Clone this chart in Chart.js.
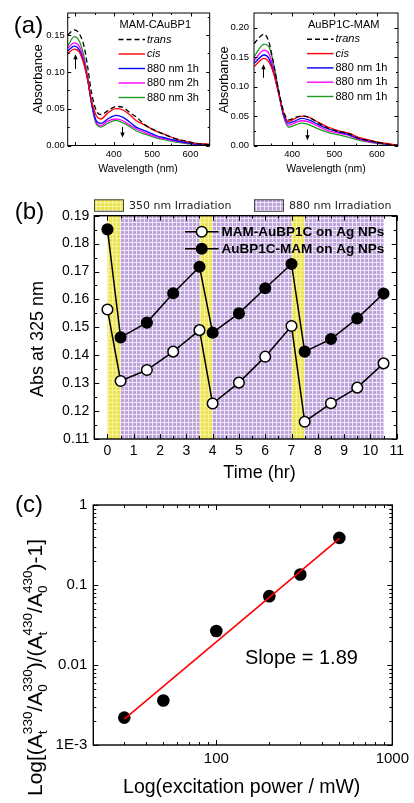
<!DOCTYPE html>
<html>
<head>
<meta charset="utf-8">
<title>Azobenzene photoswitching on Ag NPs</title>
<script src="https://cdn.jsdelivr.net/npm/chart.js@4.4.1/dist/chart.umd.min.js"></script>
<style>
  body { margin: 0; background: #fff; }
  #wrap { position: relative; width: 414px; height: 803px; overflow: hidden; }
  #wrap canvas { position: absolute; }
</style>
</head>
<body>
<div id="wrap">
  <canvas id="specLeft" width="212" height="190" style="left:0;top:0"></canvas>
  <canvas id="specRight" width="202" height="190" style="left:212px;top:0"></canvas>
  <canvas id="cycles" width="414" height="300" style="left:0;top:190px"></canvas>
  <canvas id="power" width="414" height="313" style="left:0;top:490px"></canvas>
</div>
<script>
const FONT = "'Liberation Sans', Arial, sans-serif";

// ---- (a) left: MAM-CAuBP1 spectra
const wlLeft = [280, 297, 310, 323, 332, 341, 354, 367, 384, 406, 423, 441, 458, 484, 510, 536, 562, 588, 614, 650];
const leftTrans = [0.150, 0.157, 0.152, 0.134, 0.107, 0.075, 0.048, 0.042, 0.047, 0.053, 0.052, 0.045, 0.039, 0.027, 0.020, 0.014, 0.009, 0.006, 0.003, 0.001];
const leftCis   = [0.125, 0.131, 0.127, 0.109, 0.089, 0.064, 0.041, 0.036, 0.044, 0.050, 0.0486, 0.042, 0.034, 0.027, 0.0195, 0.0145, 0.009, 0.0055, 0.003, 0.002];
const left1h    = [0.1286, 0.135, 0.130, 0.111, 0.089, 0.061, 0.034, 0.030, 0.036, 0.041, 0.0386, 0.032, 0.025, 0.0195, 0.0136, 0.010, 0.0068, 0.004, 0.002, 0.001];
const left2h    = [0.132, 0.1395, 0.135, 0.115, 0.091, 0.061, 0.032, 0.027, 0.033, 0.036, 0.034, 0.028, 0.0227, 0.0168, 0.012, 0.0086, 0.006, 0.0036, 0.0018, 0.0005];
const left3h    = [0.135, 0.148, 0.142, 0.120, 0.093, 0.060, 0.0295, 0.025, 0.030, 0.034, 0.031, 0.026, 0.020, 0.015, 0.0105, 0.0073, 0.0045, 0.0027, 0.0014, 0.0];
const leftLabels = ['trans', 'cis', '880 nm 1h', '880 nm 2h', '880 nm 3h'];

// ---- (a) right: AuBP1C-MAM spectra
const wlRight = [310, 334, 345, 356, 368, 380, 392, 408, 423, 439, 463, 486, 510, 534, 557, 581, 604, 628, 650];
const rightTrans = [0.173, 0.189, 0.176, 0.140, 0.094, 0.058, 0.0435, 0.048, 0.050, 0.048, 0.038, 0.029, 0.024, 0.020, 0.012, 0.0085, 0.005, 0.002, 0.0];
const rightCis   = [0.134, 0.148, 0.142, 0.123, 0.089, 0.055, 0.041, 0.046, 0.050, 0.048, 0.039, 0.031, 0.025, 0.021, 0.014, 0.0096, 0.0056, 0.003, 0.0];
const right1a    = [0.1395, 0.1537, 0.148, 0.125, 0.089, 0.052, 0.038, 0.042, 0.046, 0.0435, 0.035, 0.028, 0.0226, 0.0186, 0.012, 0.008, 0.0045, 0.002, 0.0];
const right1b    = [0.144, 0.162, 0.1565, 0.131, 0.0915, 0.050, 0.0345, 0.039, 0.042, 0.040, 0.032, 0.025, 0.021, 0.017, 0.011, 0.0068, 0.004, 0.0017, 0.0];
const right1c    = [0.151, 0.172, 0.168, 0.140, 0.094, 0.049, 0.031, 0.035, 0.038, 0.0356, 0.0277, 0.022, 0.018, 0.014, 0.009, 0.0056, 0.0034, 0.0011, 0.0];
const rightLabels = ['trans', 'cis', '880 nm 1h', '880 nm 1h', '880 nm 1h'];

const specXTicks = [400, 500, 600];
const leftYTicks = [0, 0.05, 0.10, 0.15];
const rightYTicks = [0, 0.05, 0.10, 0.15, 0.20];

// ---- (b) switching cycles
const timeHr    = [0, 0.5, 1.5, 2.5, 3.5, 4, 5, 6, 7, 7.5, 8.5, 9.5, 10.5];
const absMamAu  = [0.1564, 0.1308, 0.1347, 0.1413, 0.1490, 0.1227, 0.1302, 0.1395, 0.1505, 0.1162, 0.1228, 0.1284, 0.1371];
const absAuMam  = [0.1851, 0.1464, 0.1517, 0.1622, 0.1717, 0.1481, 0.1550, 0.1640, 0.1727, 0.1413, 0.1458, 0.1532, 0.1621];
const uvBands   = [[0, 0.5], [3.5, 4], [7, 7.5]];
const nirBands  = [[0.5, 3.5], [4, 7], [7.5, 10.5]];
const timeTicks = [0, 1, 2, 3, 4, 5, 6, 7, 8, 9, 10, 11];
const absTicks  = [0.11, 0.12, 0.13, 0.14, 0.15, 0.16, 0.17, 0.18, 0.19];

// ---- (c) power dependence
const powerMw  = [30, 50, 100, 200, 300, 500];
const ratioVal = [0.0022, 0.0036, 0.0266, 0.0725, 0.135, 0.388];
const fitPower = [30, 500];
const fitVal   = [0.0021, 0.38];
const powerTicks = [100, 1000];
const ratioTicks = [0.001, 0.01, 0.1, 1];
const ratioTickLabels = ['1E-3', '0.01', '0.1', '1'];

const pts = (xs, ys) => xs.map((x, i) => ({ x, y: ys[i] }));

//------------------------------------------------------------
// plugins

// inward ticks on all four sides plus the frame
const frameTicks = {
  id: 'frameTicks',
  afterDatasetsDraw(chart, args, o) {
    const { ctx, chartArea: a, scales: { x, y } } = chart;
    ctx.save();
    ctx.strokeStyle = '#000';
    ctx.lineWidth = 1;
    const mark = (scale, vals, len) => vals.forEach(v => {
      const p = Math.round(scale.getPixelForValue(v)) + 0.5;
      ctx.beginPath();
      if (scale.isHorizontal()) {
        ctx.moveTo(p, a.bottom); ctx.lineTo(p, a.bottom - len);
        ctx.moveTo(p, a.top); ctx.lineTo(p, a.top + len);
      } else {
        ctx.moveTo(a.left, p); ctx.lineTo(a.left + len, p);
        ctx.moveTo(a.right, p); ctx.lineTo(a.right - len, p);
      }
      ctx.stroke();
    });
    mark(x, o.xMajor, o.major); mark(x, o.xMinor, o.minor);
    mark(y, o.yMajor, o.major); mark(y, o.yMinor, o.minor);
    ctx.lineWidth = o.frame;
    ctx.strokeRect(a.left, a.top, a.right - a.left, a.bottom - a.top);
    ctx.restore();
  }
};

// free text: titles, panel letters
const texts = {
  id: 'texts',
  afterDraw(chart, args, o) {
    const ctx = chart.ctx;
    o.items.forEach(it => {
      ctx.save();
      ctx.font = it.font;
      ctx.fillStyle = '#000';
      ctx.textAlign = it.align || 'center';
      ctx.textBaseline = 'middle';
      ctx.translate(it.x, it.y);
      if (it.rot) ctx.rotate(it.rot);
      ctx.fillText(it.text, 0, 0);
      ctx.restore();
    });
  }
};

// legend for the spectra panels
const specLegend = {
  id: 'specLegend',
  afterDraw(chart, args, o) {
    const ctx = chart.ctx;
    ctx.save();
    ctx.textBaseline = 'middle';
    ctx.textAlign = 'left';
    ctx.fillStyle = '#000';
    ctx.font = `11px ${FONT}`;
    ctx.fillText(o.title, o.x0 + 1, o.y0);
    chart.data.datasets.forEach((ds, i) => {
      const y = o.y0 + o.dy * (i + 1);
      ctx.strokeStyle = ds.borderColor;
      ctx.lineWidth = 1.4;
      ctx.setLineDash(ds.borderDash || []);
      ctx.beginPath(); ctx.moveTo(o.x0, y); ctx.lineTo(o.x1, y); ctx.stroke();
      ctx.setLineDash([]);
      ctx.font = (i < 2 ? 'italic ' : '') + `11px ${FONT}`;
      ctx.fillText(ds.label, o.x1 + 2, y);
    });
    ctx.restore();
  }
};

// small vertical arrows in the spectra panels, given in data units
const arrows = {
  id: 'arrows',
  afterDatasetsDraw(chart, args, o) {
    const { ctx, scales: { x, y } } = chart;
    ctx.save();
    ctx.strokeStyle = '#000'; ctx.fillStyle = '#000'; ctx.lineWidth = 1;
    o.list.forEach(ar => {
      const px = Math.round(x.getPixelForValue(ar.x)) + 0.5;
      const y0 = y.getPixelForValue(ar.from), y1 = y.getPixelForValue(ar.to);
      const dir = y1 < y0 ? 1 : -1;
      ctx.beginPath(); ctx.moveTo(px, y0); ctx.lineTo(px, y1 + dir * 3); ctx.stroke();
      ctx.beginPath();
      ctx.moveTo(px, y1); ctx.lineTo(px - 2.2, y1 + dir * 5); ctx.lineTo(px + 2.2, y1 + dir * 5);
      ctx.closePath(); ctx.fill();
    });
    ctx.restore();
  }
};

// irradiation bands + their legend for panel (b)
let uvPattern, nirPattern;
function makePattern(ctx, base, line) {
  const c = document.createElement('canvas');
  c.width = 4; c.height = 4;
  const g = c.getContext('2d');
  g.fillStyle = base; g.fillRect(0, 0, 4, 4);
  g.fillStyle = line; g.fillRect(0, 0, 4, 1); g.fillRect(0, 0, 1, 4);
  return ctx.createPattern(c, 'repeat');
}
const bands = {
  id: 'bands',
  beforeDatasetsDraw(chart) {
    const { ctx, chartArea: a, scales: { x } } = chart;
    if (!uvPattern) {
      uvPattern = makePattern(ctx, '#ece44c', '#f7f2a6');
      nirPattern = makePattern(ctx, '#bea2dc', '#eee7f7');
    }
    ctx.save();
    const paint = (list, pat) => list.forEach(([s, e]) => {
      const x0 = x.getPixelForValue(s), x1 = x.getPixelForValue(e);
      ctx.fillStyle = pat;
      ctx.fillRect(x0, a.top, x1 - x0, a.bottom - a.top);
    });
    paint(uvBands, uvPattern);
    paint(nirBands, nirPattern);
    ctx.restore();
  },
  afterDraw(chart, args, o) {
    const ctx = chart.ctx;
    ctx.save();
    ctx.font = `11px 'DejaVu Sans', sans-serif`;
    ctx.textBaseline = 'middle';
    ctx.textAlign = 'left';
    [[o.uvX, uvPattern, '350 nm Irradiation'], [o.nirX, nirPattern, '880 nm Irradiation']].forEach(([bx, pat, label]) => {
      ctx.fillStyle = pat;
      ctx.fillRect(bx, o.boxY, 29, 11.5);
      ctx.strokeStyle = '#444'; ctx.lineWidth = 1;
      ctx.strokeRect(bx + 0.5, o.boxY + 0.5, 29, 11.5);
      ctx.fillStyle = '#222';
      ctx.fillText(label, bx + 35, o.boxY + 6.5);
    });
    // series legend inside the plot
    ctx.font = `bold 13.5px ${FONT}`;
    chart.data.datasets.forEach((ds, i) => {
      const y = o.serY + o.serDy * i;
      ctx.strokeStyle = '#000'; ctx.lineWidth = 1.5;
      ctx.beginPath(); ctx.moveTo(o.serX0, y); ctx.lineTo(o.serX1, y); ctx.stroke();
      ctx.beginPath(); ctx.arc((o.serX0 + o.serX1) / 2, y, 5.3, 0, Math.PI * 2);
      ctx.fillStyle = ds.pointBackgroundColor; ctx.fill(); ctx.stroke();
      ctx.fillStyle = '#000';
      ctx.fillText(ds.label, o.serX1 + 3, y + 0.5);
    });
    ctx.restore();
  }
};

// rotated y title of (c) with super/subscripts
const richTitle = {
  id: 'richTitle',
  afterDraw(chart, args, o) {
    const ctx = chart.ctx;
    ctx.save();
    ctx.translate(o.x, o.y);
    ctx.rotate(-Math.PI / 2);
    ctx.textAlign = 'left';
    ctx.textBaseline = 'alphabetic';
    ctx.fillStyle = '#000';
    let cx = 0;
    o.parts.forEach(p => {
      if (p.sup !== undefined) {
        ctx.font = `${o.small}px ${FONT}`;
        const w = Math.max(ctx.measureText(p.sup).width, ctx.measureText(p.sub).width);
        ctx.fillText(p.sup, cx, -o.base * 0.5);
        ctx.fillText(p.sub, cx, o.base * 0.22);
        cx += w;
      } else {
        ctx.font = `${o.base}px ${FONT}`;
        ctx.fillText(p.text, cx, 0);
        cx += ctx.measureText(p.text).width;
      }
    });
    ctx.restore();
  }
};

//------------------------------------------------------------
// helpers

function axis(type, min, max, tickVals, fmt, size, pad, fit) {
  return {
    type, min, max,
    grid: { display: false, drawTicks: false },
    border: { display: false },
    afterBuildTicks: s => { s.ticks = tickVals.map(v => ({ value: v })); },
    afterFit: fit,
    ticks: {
      callback: fmt, autoSkip: false, maxRotation: 0, padding: pad, color: '#000',
      font: { family: FONT, size }
    }
  };
}

function specLine(label, xs, ys, color, dash) {
  return {
    label, data: pts(xs, ys),
    borderColor: color, borderWidth: 1.3, borderDash: dash || [],
    pointRadius: 0, showLine: true, cubicInterpolationMode: 'monotone', fill: false
  };
}

const baseOpts = { responsive: false, animation: false, devicePixelRatio: 1, events: [] };

//------------------------------------------------------------
// (a) left
new Chart(document.getElementById('specLeft'), {
  type: 'scatter',
  data: {
    datasets: [
      specLine(leftLabels[0], wlLeft, leftTrans, '#000', [5, 3]),
      specLine(leftLabels[1], wlLeft, leftCis, '#ff0000'),
      specLine(leftLabels[2], wlLeft, left1h, '#0000ff'),
      specLine(leftLabels[3], wlLeft, left2h, '#ff00ff'),
      specLine(leftLabels[4], wlLeft, left3h, '#1f9a1f')
    ]
  },
  options: {
    ...baseOpts,
    layout: { padding: { top: 13, right: 2.3, left: 0, bottom: 0 } },
    scales: {
      x: axis('linear', 280, 650, specXTicks, v => String(v), 9.5, 3.5, s => { s.height = 44.5; }),
      y: axis('linear', 0, 0.18, leftYTicks, v => v.toFixed(2), 9.5, 3, s => { s.width = 67.7; })
    },
    plugins: {
      legend: { display: false }, tooltip: { enabled: false },
      frameTicks: { xMajor: [300, 400, 500, 600], xMinor: [350, 450, 550], yMajor: leftYTicks, yMinor: [0.025, 0.075, 0.125, 0.175], major: 3.5, minor: 2, frame: 1 },
      specLegend: { title: 'MAM-CAuBP1', x0: 118.5, x1: 145, y0: 25, dy: 14.5 },
      arrows: { list: [{ x: 300, from: 0.104, to: 0.124 }, { x: 421, from: 0.025, to: 0.011 }] },
      texts: { items: [
        { text: '(a)', x: 28.5, y: 26, font: `24px ${FONT}` },
        { text: 'Absorbance', x: 38, y: 79, rot: -Math.PI / 2, font: `13px ${FONT}` },
        { text: 'Wavelength (nm)', x: 138, y: 169, font: `10.5px ${FONT}` }
      ] }
    }
  },
  plugins: [frameTicks, specLegend, arrows, texts]
});

// (a) right
new Chart(document.getElementById('specRight'), {
  type: 'scatter',
  data: {
    datasets: [
      specLine(rightLabels[0], wlRight, rightTrans, '#000', [5, 3]),
      specLine(rightLabels[1], wlRight, rightCis, '#ff0000'),
      specLine(rightLabels[2], wlRight, right1a, '#0000ff'),
      specLine(rightLabels[3], wlRight, right1b, '#ff00ff'),
      specLine(rightLabels[4], wlRight, right1c, '#1f9a1f')
    ]
  },
  options: {
    ...baseOpts,
    layout: { padding: { top: 13, right: 16, left: 0, bottom: 0 } },
    scales: {
      x: axis('linear', 310, 650, specXTicks, v => String(v), 9.5, 3.5, s => { s.height = 44.5; }),
      y: axis('linear', 0, 0.225, rightYTicks, v => v.toFixed(2), 9.5, 5, s => { s.width = 42; })
    },
    plugins: {
      legend: { display: false }, tooltip: { enabled: false },
      frameTicks: { xMajor: specXTicks, xMinor: [350, 450, 550], yMajor: rightYTicks, yMinor: [0.025, 0.075, 0.125, 0.175], major: 3.5, minor: 2, frame: 1 },
      specLegend: { title: 'AuBP1C-MAM', x0: 95, x1: 121.5, y0: 25, dy: 14.3 },
      arrows: { list: [{ x: 332, from: 0.115, to: 0.138 }, { x: 434, from: 0.027, to: 0.009 }] },
      texts: { items: [
        { text: 'Absorbance', x: 13, y: 80, rot: -Math.PI / 2, font: `12.5px ${FONT}` },
        { text: 'Wavelength (nm)', x: 114, y: 169, font: `10.5px ${FONT}` }
      ] }
    }
  },
  plugins: [frameTicks, specLegend, arrows, texts]
});

// (b)
new Chart(document.getElementById('cycles'), {
  type: 'scatter',
  data: {
    datasets: [
      { label: 'MAM-AuBP1C on Ag NPs', data: pts(timeHr, absMamAu), showLine: true, borderColor: '#000', borderWidth: 1.5,
        pointRadius: 5.3, pointBackgroundColor: '#fff', pointBorderColor: '#000', pointBorderWidth: 1.5 },
      { label: 'AuBP1C-MAM on Ag NPs', data: pts(timeHr, absAuMam), showLine: true, borderColor: '#000', borderWidth: 1.5,
        pointRadius: 5.3, pointBackgroundColor: '#000', pointBorderColor: '#000', pointBorderWidth: 1.5 }
    ]
  },
  options: {
    ...baseOpts,
    layout: { padding: { top: 25.7, right: 17.3, left: 0, bottom: 0 } },
    scales: {
      x: axis('linear', -0.5, 11, timeTicks, v => String(v), 14, 4, s => { s.height = 51; }),
      y: axis('linear', 0.11, 0.19, absTicks, v => v.toFixed(2), 14, 5, s => { s.width = 94.3; })
    },
    plugins: {
      legend: { display: false }, tooltip: { enabled: false },
      frameTicks: { xMajor: timeTicks, xMinor: [0.5, 1.5, 2.5, 3.5, 4.5, 5.5, 6.5, 7.5, 8.5, 9.5, 10.5], yMajor: absTicks,
        yMinor: [0.115, 0.125, 0.135, 0.145, 0.155, 0.165, 0.175, 0.185], major: 5, minor: 3, frame: 1.4 },
      bands: { uvX: 94, nirX: 254, boxY: 9.3, serX0: 185, serX1: 218.5, serY: 41.7, serDy: 17 },
      texts: { items: [
        { text: '(b)', x: 29.5, y: 22, font: `24px ${FONT}` },
        { text: 'Abs at 325 nm', x: 38, y: 149, rot: -Math.PI / 2, font: `18px ${FONT}` },
        { text: 'Time (hr)', x: 259.5, y: 283, font: `18px ${FONT}` }
      ] }
    }
  },
  plugins: [bands, frameTicks, texts]
});

// (c)
new Chart(document.getElementById('power'), {
  type: 'scatter',
  data: {
    datasets: [
      { label: 'fit', data: pts(fitPower, fitVal), showLine: true, borderColor: '#ff0000', borderWidth: 1.6, pointRadius: 0 },
      { label: 'data', data: pts(powerMw, ratioVal), pointRadius: 6.3, pointBackgroundColor: '#000', pointBorderWidth: 0 }
    ]
  },
  options: {
    ...baseOpts,
    layout: { padding: { top: 10, right: 18, left: 0, bottom: 0 } },
    scales: {
      x: axis('logarithmic', 20, 1000, powerTicks, v => String(v), 15, 5, s => { s.height = 58; }),
      y: axis('logarithmic', 0.001, 1, ratioTicks, v => ratioTickLabels[ratioTicks.indexOf(v)], 15, 6, s => { s.width = 93.3; })
    },
    plugins: {
      legend: { display: false }, tooltip: { enabled: false },
      frameTicks: { xMajor: powerTicks, xMinor: [20, 30, 40, 50, 60, 70, 80, 90, 200, 300, 400, 500, 600, 700, 800, 900],
        yMajor: ratioTicks, yMinor: [0.002, 0.003, 0.004, 0.005, 0.006, 0.007, 0.008, 0.009, 0.02, 0.03, 0.04, 0.05, 0.06, 0.07, 0.08, 0.09,
          0.2, 0.3, 0.4, 0.5, 0.6, 0.7, 0.8, 0.9], major: 5, minor: 3, frame: 1.4 },
      texts: { items: [
        { text: '(c)', x: 29, y: 15, font: `24px ${FONT}` },
        { text: 'Slope = 1.89', x: 245, y: 168, align: 'left', font: `20px ${FONT}` },
        { text: 'Log(excitation power / mW)', x: 241.7, y: 298, font: `19.5px ${FONT}` }
      ] },
      richTitle: { x: 42, y: 306, base: 21, small: 13.5, parts: [
        { text: 'Log[(A' }, { sup: '330', sub: 't' }, { text: '/A' }, { sup: '330', sub: '0' },
        { text: ')/(A' }, { sup: '430', sub: 't' }, { text: '/A' }, { sup: '430', sub: '0' }, { text: ')-1]' }
      ] }
    }
  },
  plugins: [frameTicks, texts, richTitle]
});
</script>
</body>
</html>
